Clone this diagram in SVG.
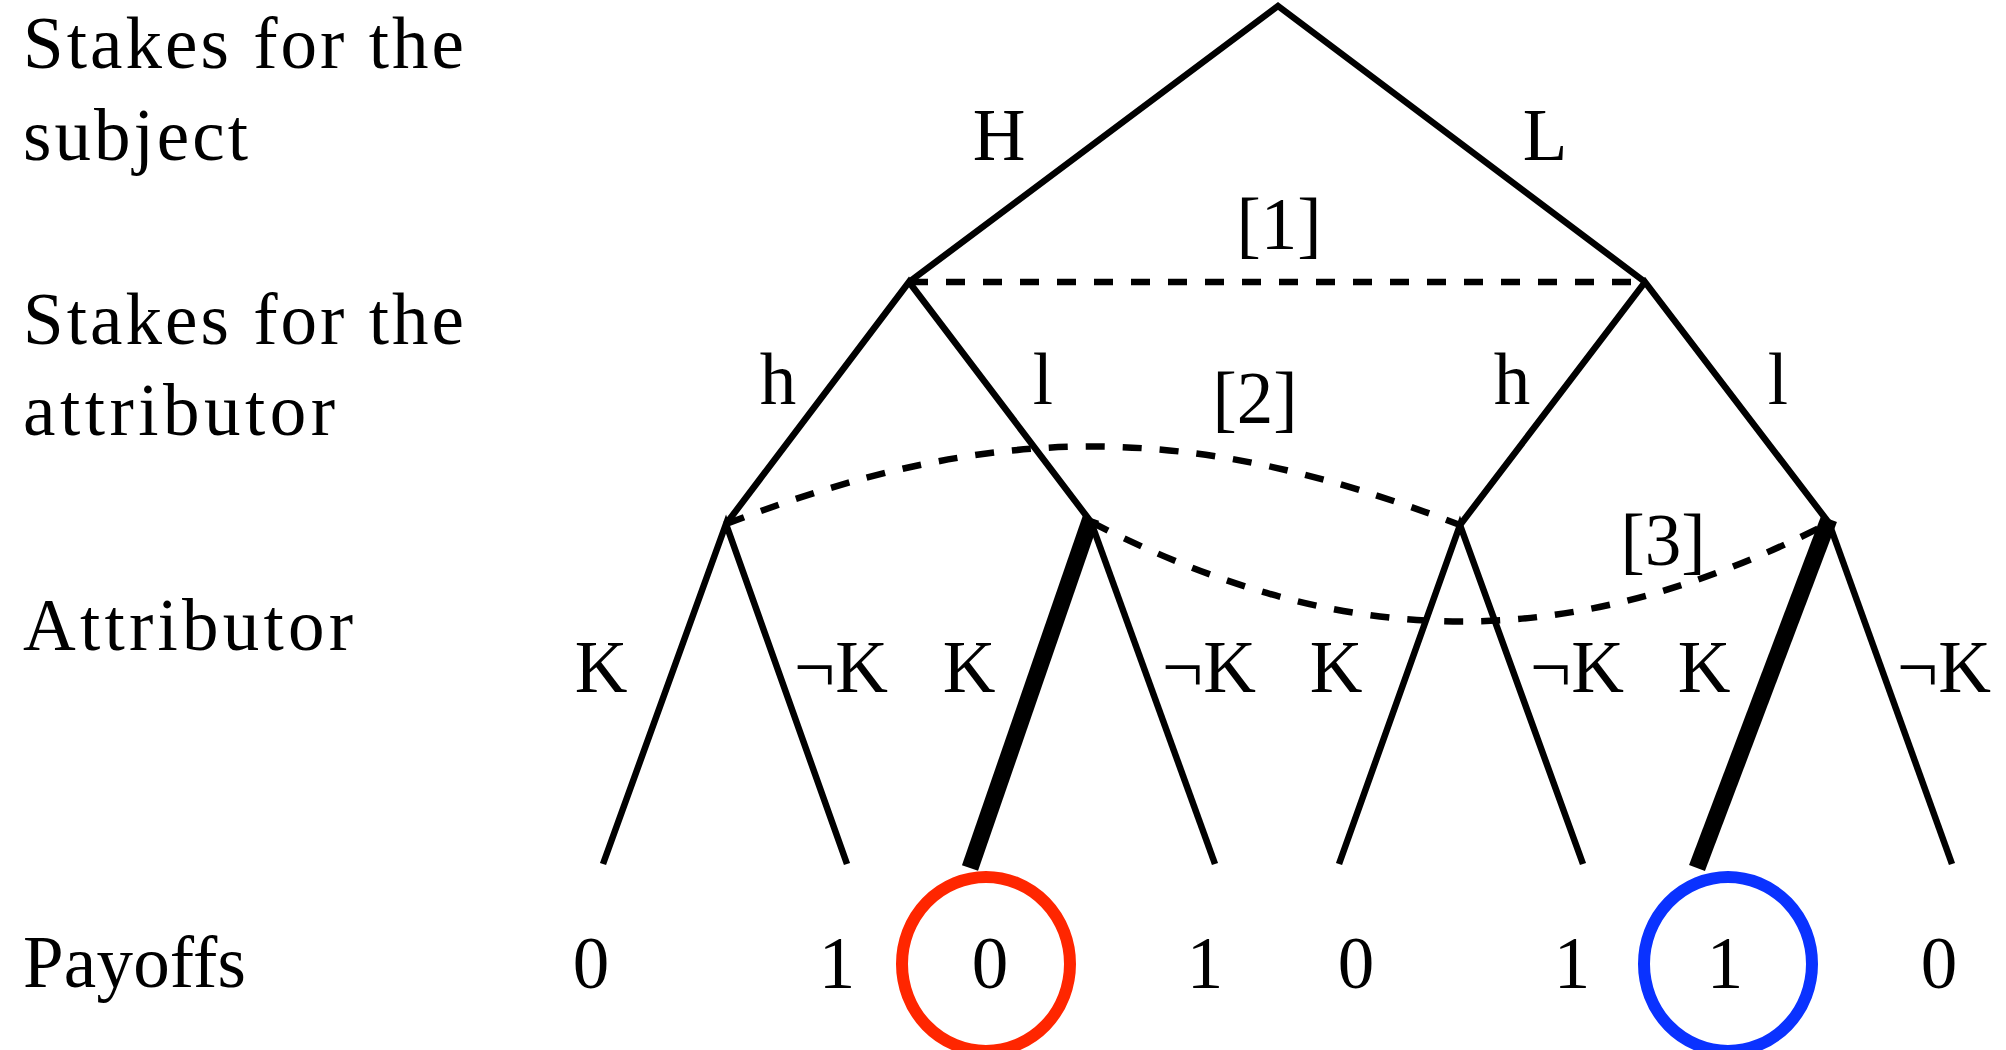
<svg xmlns="http://www.w3.org/2000/svg" width="2006" height="1050" viewBox="0 0 2006 1050">
<style>
text{font-family:"Liberation Serif","Times New Roman",serif;font-size:73px;fill:#000}
.c{text-anchor:middle}
.e{stroke:#000;stroke-width:6.5;fill:none;stroke-linecap:butt}
.t{stroke:#000;stroke-width:17;fill:none;stroke-linecap:butt}
.d{stroke:#000;stroke-width:6.5;fill:none;stroke-dasharray:19 18}
.ring{fill:none;stroke-width:12}
</style>
<rect width="2006" height="1050" fill="#fff"/>
<g id="row-labels">
<text x="23" y="68" textLength="441" lengthAdjust="spacing">Stakes for the</text>
<text x="23" y="160" textLength="225" lengthAdjust="spacing">subject</text>
<text x="23" y="344" textLength="441" lengthAdjust="spacing">Stakes for the</text>
<text x="23" y="435" textLength="312" lengthAdjust="spacing">attributor</text>
<text x="23" y="650" textLength="330" lengthAdjust="spacing">Attributor</text>
<text x="23" y="987" textLength="223" lengthAdjust="spacing">Payoffs</text>
</g>
<g id="connectors">
<polyline class="e" points="909,282 1278,6 1645,282"/>
<polyline class="e" points="726,524 909,282 1091,522"/>
<polyline class="e" points="1460,525 1645,282 1829,523"/>
<polyline class="e" points="603,864 726,524 847,864"/>
<line class="e" x1="1091" y1="522" x2="1215" y2="864"/>
<polyline class="e" points="1339,864 1460,525 1583,864"/>
<line class="e" x1="1829" y1="523" x2="1952" y2="864"/>
<line class="t" x1="1091" y1="518" x2="970" y2="868"/>
<line class="t" x1="1829" y1="519" x2="1697" y2="868"/>
<line class="d" x1="909" y1="282" x2="1645" y2="282"/>
<path class="d" d="M726,524 C996,420 1190,421 1460,525"/>
<path class="d" d="M1091,522 C1349,654 1571,655 1829,523"/>
</g>
<g id="edge-labels">
<text class="c" x="999" y="160">H</text>
<text class="c" x="1545" y="160">L</text>
<text class="c" x="1279" y="249">[1]</text>
<text class="c" x="778" y="404">h</text>
<text class="c" x="1043" y="404">l</text>
<text class="c" x="1512" y="404">h</text>
<text class="c" x="1778" y="404">l</text>
<text class="c" x="1255" y="423">[2]</text>
<text class="c" x="1663" y="565">[3]</text>
<text class="c" x="601" y="692">K</text>
<text class="c" x="841" y="692">¬K</text>
<text class="c" x="969" y="692">K</text>
<text class="c" x="1209" y="692">¬K</text>
<text class="c" x="1336" y="692">K</text>
<text class="c" x="1577" y="692">¬K</text>
<text class="c" x="1704" y="692">K</text>
<text class="c" x="1944" y="692">¬K</text>
</g>
<g id="payoffs">
<text class="c" x="591" y="988">0</text>
<text class="c" x="837" y="988">1</text>
<text class="c" x="990" y="988">0</text>
<text class="c" x="1205" y="988">1</text>
<text class="c" x="1356" y="988">0</text>
<text class="c" x="1572" y="988">1</text>
<text class="c" x="1725" y="988">1</text>
<text class="c" x="1939" y="988">0</text>
</g>
<g id="red-circle"><ellipse class="ring" cx="986" cy="964" rx="84" ry="87" stroke="#ff2600"/></g>
<g id="blue-circle"><ellipse class="ring" cx="1728" cy="964" rx="84" ry="87" stroke="#0a32ff"/></g>
</svg>
